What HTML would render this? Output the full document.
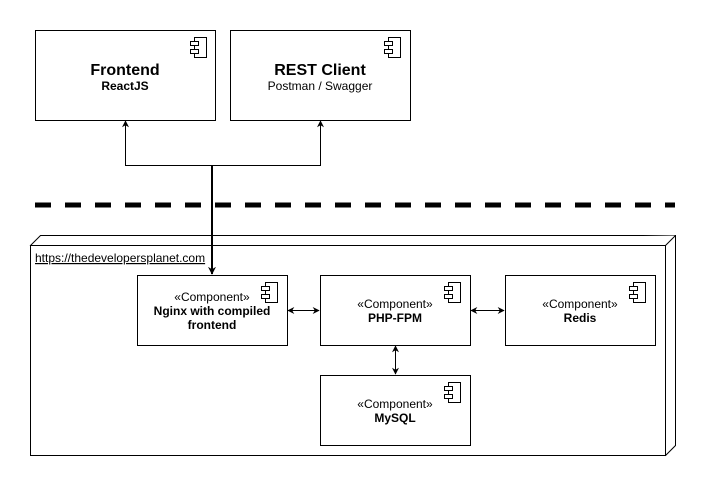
<html><body style="margin:0;background:#fff">
<svg width="709" height="486" xmlns="http://www.w3.org/2000/svg" font-family="Liberation Sans, sans-serif">
<defs>
<marker id="a" viewBox="0 0 10 10" refX="9" refY="5" markerWidth="7" markerHeight="7" orient="auto-start-reverse" markerUnits="userSpaceOnUse"><path d="M0,0 L10,5 L0,10 L3,5 Z" fill="#000"/></marker>
<marker id="b" viewBox="0 0 10 10" refX="9" refY="5" markerWidth="8" markerHeight="8" orient="auto" markerUnits="userSpaceOnUse"><path d="M0,0 L10,5 L0,10 L3,5 Z" fill="#000"/></marker>
<g id="ic"><rect x="4" y="0" width="12" height="20" fill="#fff" stroke="#000"/><rect x="0" y="4" width="8" height="4" fill="#fff" stroke="#000"/><rect x="0" y="12" width="8" height="4" fill="#fff" stroke="#000"/></g>
</defs>
<g fill="#fff" stroke="#000">
<rect x="35.5" y="30.5" width="180" height="90"/>
<rect x="230.5" y="30.5" width="180" height="90"/>
<path d="M30.5,245.5 L40.5,235.5 L675.5,235.5 L675.5,445.5 L665.5,455.5 Z"/>
<path d="M30.5,245.5 L665.5,245.5 L675.5,235.5 M665.5,245.5 L665.5,455.5"/>
<rect x="30.5" y="245.5" width="635" height="210"/>
<rect x="137.5" y="275.5" width="150" height="70"/>
<rect x="320.5" y="275.5" width="150" height="70"/>
<rect x="505.5" y="275.5" width="150" height="70"/>
<rect x="320.5" y="375.5" width="150" height="70"/>
</g>
<use href="#ic" x="190.5" y="37.5"/>
<use href="#ic" x="384.5" y="37.5"/>
<use href="#ic" x="261.5" y="282.5"/>
<use href="#ic" x="444.5" y="282.5"/>
<use href="#ic" x="629.5" y="282.5"/>
<use href="#ic" x="444.5" y="382.5"/>
<line x1="35" y1="205" x2="675" y2="205" stroke="#000" stroke-width="5" stroke-dasharray="16 14"/>
<path d="M125.5,127 L125.5,165.5 L320.5,165.5 L320.5,127" fill="none" stroke="#000"/>
<path d="M125.5,130 L125.5,121" stroke="#000" marker-end="url(#a)"/>
<path d="M320.5,130 L320.5,121" stroke="#000" marker-end="url(#a)"/>
<path d="M212,165 L212,274" stroke="#000" stroke-width="2" marker-end="url(#b)"/>
<line x1="288" y1="310.5" x2="319" y2="310.5" stroke="#000" marker-start="url(#a)" marker-end="url(#a)"/>
<line x1="471" y1="310.5" x2="504" y2="310.5" stroke="#000" marker-start="url(#a)" marker-end="url(#a)"/>
<line x1="395.5" y1="346" x2="395.5" y2="374" stroke="#000" marker-start="url(#a)" marker-end="url(#a)"/>
<g text-anchor="middle" font-size="12">
<text x="125" y="75" font-size="16" font-weight="bold">Frontend</text>
<text x="125" y="90" font-weight="bold">ReactJS</text>
<text x="320" y="75" font-size="16" font-weight="bold">REST Client</text>
<text x="320" y="90">Postman / Swagger</text>
<text x="212" y="301">«Component»</text>
<text x="212" y="315" font-weight="bold">Nginx with compiled</text>
<text x="212" y="329" font-weight="bold">frontend</text>
<text x="395" y="308">«Component»</text>
<text x="395" y="322" font-weight="bold">PHP-FPM</text>
<text x="580" y="308">«Component»</text>
<text x="580" y="322" font-weight="bold">Redis</text>
<text x="395" y="408">«Component»</text>
<text x="395" y="422" font-weight="bold">MySQL</text>
</g>
<text x="35" y="262" font-size="12" text-decoration="underline">https://thedevelopersplanet.com</text>
</svg>
</body></html>
